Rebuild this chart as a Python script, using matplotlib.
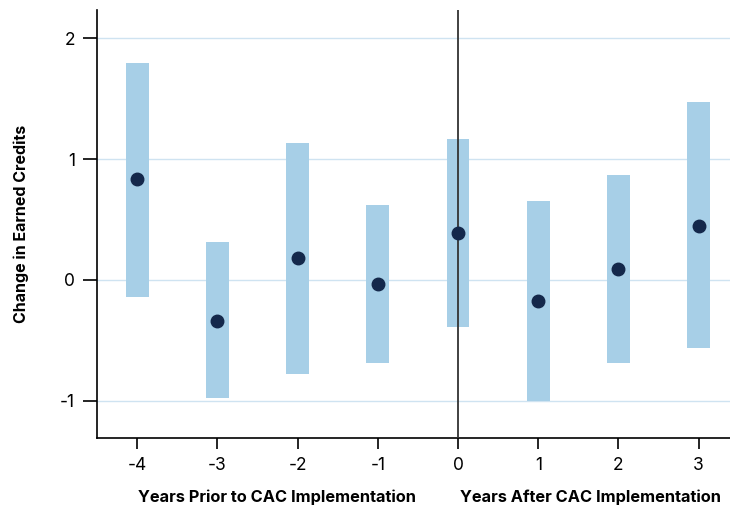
import matplotlib.pyplot as plt

plt.rcParams['font.family'] = ['Inter', 'DejaVu Sans']
plt.rcParams['axes.unicode_minus'] = False

# event-time estimates and 95% CI
years = [-4, -3, -2, -1, 0, 1, 2, 3]
coef = [0.835, -0.34, 0.18, -0.03, 0.39, -0.17, 0.09, 0.45]
ci_low = [-0.14, -0.975, -0.78, -0.69, -0.39, -1.0, -0.69, -0.56]
ci_high = [1.79, 0.31, 1.13, 0.62, 1.165, 0.65, 0.87, 1.47]
yticks = [-1, 0, 1, 2]

fig = plt.figure(figsize=(7.3, 5.08), dpi=100)
ax = fig.add_axes([0.133, 0.138, 0.867, 0.842])

heights = [h - l for h, l in zip(ci_high, ci_low)]
ax.bar(years, heights, bottom=ci_low, width=0.285, color='#a7cfe7', zorder=2)
ax.axvline(0, color='#333333', lw=1.3, zorder=3)
ax.plot(years, coef, 'o', color='#14284b', markersize=9, zorder=4)

ax.set_xlim(-4.5, 3.39)
ax.set_ylim(-1.306, 2.231)
ax.set_xticks(years)
ax.set_xticklabels([str(y) for y in years])
ax.set_yticks(yticks)
ax.grid(axis='y', color='#cfe3f1', lw=1, zorder=0)
ax.set_axisbelow(True)

for s in ['top', 'right']:
    ax.spines[s].set_visible(False)
ax.spines['left'].set_linewidth(1.2)
ax.spines['bottom'].set_linewidth(1.2)
ax.tick_params(axis='y', length=10, width=1.2, labelsize=12.5, pad=6)
ax.tick_params(axis='x', length=8, width=1.2, labelsize=12.5, pad=6)

ax.set_ylabel('Change in Earned Credits', fontsize=11.5, fontweight='bold')
ax.yaxis.set_label_coords(-0.107, 0.5)
fig.text(277 / 730, 1 - 497 / 508, 'Years Prior to CAC Implementation',
         ha='center', va='center', fontsize=11.8, fontweight='bold')
fig.text(591 / 730, 1 - 497 / 508, 'Years After CAC Implementation',
         ha='center', va='center', fontsize=11.8, fontweight='bold')

plt.savefig('out.png')
